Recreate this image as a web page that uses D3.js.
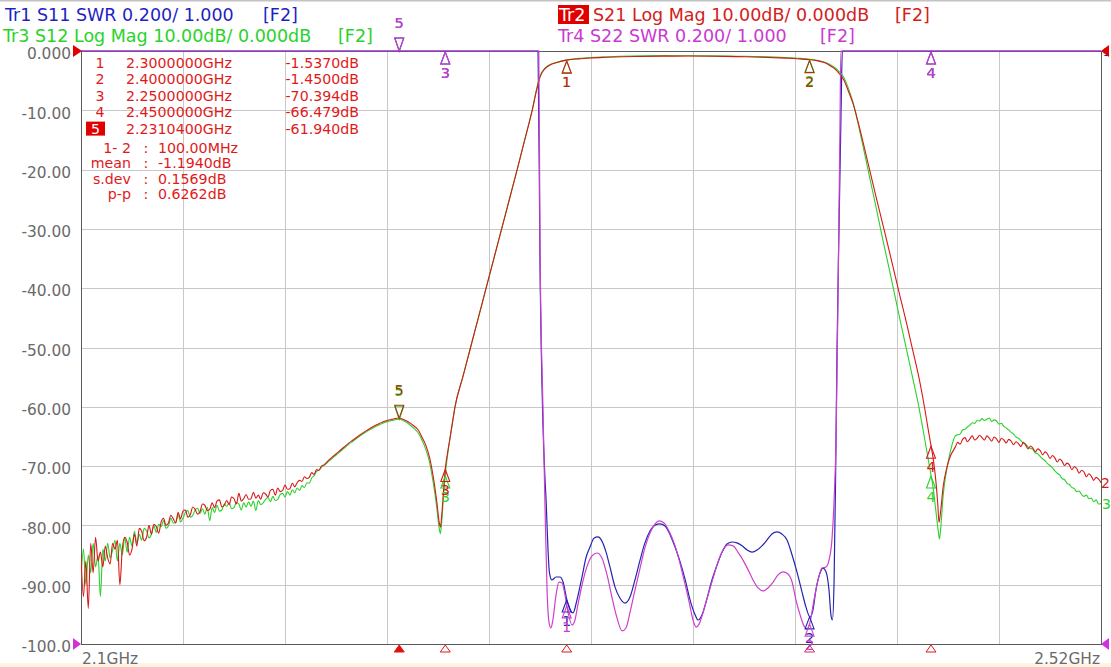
<!DOCTYPE html>
<html><head><meta charset="utf-8">
<script src="https://cdn.jsdelivr.net/npm/d3@7"></script>
<style>
html,body{margin:0;padding:0;background:#fff;overflow:hidden;}
svg{display:block;font-family:"DejaVu Sans",Verdana,sans-serif;}
</style></head><body>
<svg id="c" width="1111" height="667"></svg>
<script>
// ---------- data ----------
const sweepStart = 2100, sweepStop = 2520;          // MHz
const dbBottom = -100, dbTop = 0;                   // Log Mag scale
const swrBottom = 1.0, swrTop = 3.0;                // SWR scale (0.200/div)
const xGridMHz = [2142,2184,2226,2268,2310,2352,2394,2436,2478];
const yTicks = [0,-10,-20,-30,-40,-50,-60,-70,-80,-90,-100];
const yTickLabels = ["0.000","-10.00","-20.00","-30.00","-40.00","-50.00","-60.00","-70.00","-80.00","-90.00","-100.0"];
const startLabel = "2.1GHz", stopLabel = "2.52GHz";

// S21 Log Mag (dB) [MHz, dB]
const s21 = [[2100,-85],[2101,-92],[2102,-86],[2103,-94],[2104,-83],[2105,-88],[2106,-82],[2107,-86],[2108,-84.5],[2109,-87],
[2110,-83.5],[2111,-85.5],[2112,-86.5],[2113,-83],[2114,-84],[2115,-82.5],[2116,-90],[2117,-84],[2118,-82],[2119,-82.8],
[2120,-85],[2121,-84],[2122,-81.5],[2123,-83.5],[2124,-80.5],[2125,-81],[2126,-82.6],[2127,-82],[2128,-80],[2129,-81.5],
[2130,-79.8],[2131,-80.2],[2132,-81.3],[2133,-79.4],[2134,-78.8],[2135,-80],[2136,-79.6],[2137,-78.3],[2138,-78.9],[2139,-79.6],
[2140,-77.8],[2141,-78.9],[2142,-77.6],[2143,-77.4],[2144,-78.6],[2145,-78.2],[2146,-76.9],[2147,-77.3],[2148,-78.1],[2149,-77.7],
[2150,-76.4],[2151,-76.6],[2152,-77.5],[2153,-77.3],[2154,-76.2],[2155,-77],[2156,-75.9],[2157,-75.7],[2158,-76.9],[2159,-76.6],
[2160,-75.8],[2161,-76.5],[2162,-75.2],[2163,-75.5],[2164,-76.4],[2165,-74.6],[2166,-75.9],[2167,-75.5],[2168,-74.8],[2169,-75.6],
[2170,-75.5],[2171,-74.4],[2172,-75.4],[2173,-74.9],[2174,-75.6],[2175,-74.5],[2176,-74.7],[2177,-75.2],[2178,-74.1],[2179,-73.9],
[2180,-74.9],[2181,-73.7],[2182,-74.3],[2183,-74.1],[2184,-73.2],[2185,-73.9],[2186,-73.8],[2187,-72.9],[2188,-73.5],[2189,-72.8],
[2190,-72.4],[2191,-72.6],[2192,-71.8],[2193,-72.1],[2194,-71.9],[2195,-71.1],[2196,-71.4],[2197,-70.6],[2198,-70.7],[2199,-70.0],
[2200,-69.8],[2202,-69.0],[2204,-68.3],[2206,-67.6],[2208,-66.9],[2210,-66.2],[2212,-65.6],[2214,-65.0],[2216,-64.4],[2218,-63.9],
[2220,-63.4],[2222,-63.0],[2224,-62.6],[2226,-62.3],[2228,-62.1],[2231,-61.9],[2233,-62.2],[2235,-62.6],[2237,-63.2],[2239,-64.0],
[2240.5,-65.2],[2242,-66.5],[2243.5,-68.5],[2244.5,-70.5],[2245.5,-73],[2246.5,-76],[2247.5,-79.5],[2248,-80.3],[2248.5,-78.5],[2249.2,-74.5],
[2250,-70.4],[2251,-67.6],[2252,-65.1],[2253,-62.5],[2254,-60],[2257.2,-55],[2260.4,-50],[2263.6,-45],[2266.8,-40],[2270,-35],
[2273.2,-30],[2276.4,-25],[2279.6,-20],[2282.7,-15],[2285.8,-10],[2287.6,-6.6],[2289,-4.4],[2291,-3.0],[2293,-2.4],[2296,-1.95],
[2300,-1.54],[2305,-1.32],[2310,-1.18],[2315,-1.08],[2320,-1.0],[2330,-0.92],[2340,-0.87],[2350,-0.85],[2360,-0.88],[2370,-0.95],
[2380,-1.05],[2390,-1.2],[2395,-1.3],[2400,-1.45],[2403,-1.62],[2406,-1.95],[2408,-2.35],[2410,-2.9],[2412,-3.7],[2414,-4.8],
[2416,-6.8],[2418,-9],[2420,-12],[2422.5,-16.2],[2425,-20.5],[2427.5,-24.8],[2430,-29],[2432.5,-33.2],[2435,-37.5],[2437.5,-41.8],
[2440,-46],[2442.5,-50.5],[2445,-55],[2447.5,-60.5],[2449,-64.2],[2450,-66.5],[2451,-69],[2452,-72.5],[2452.8,-76.5],[2453.3,-79.5],
[2454,-77.5],[2455,-73.5],[2456.5,-70.3],[2458,-68.3],[2460,-66.8],[2461,-66.0],[2462,-66.3],[2463,-65.5],[2464,-65.2],[2465,-65.9],
[2466,-65.4],[2467,-64.9],[2468,-65.6],[2469,-65.3],[2470,-64.8],[2471,-65.2],[2472,-65.6],[2473,-64.9],[2474,-65.3],[2475,-65.8],
[2476,-65.1],[2477,-65.4],[2478,-66.0],[2479,-65.3],[2480,-65.6],[2481,-66.1],[2482,-65.5],[2483,-65.8],[2484,-66.4],[2485,-65.9],
[2486,-66.2],[2487,-66.7],[2488,-66.0],[2489,-66.5],[2490,-67.1],[2491,-66.6],[2492,-67.0],[2493,-67.6],[2494,-67.1],[2495,-67.4],
[2496,-68.1],[2497,-67.6],[2498,-68.0],[2499,-68.7],[2500,-68.2],[2501,-68.6],[2502,-69.3],[2503,-68.8],[2504,-69.2],[2505,-69.9],
[2506,-69.5],[2507,-69.8],[2508,-70.6],[2509,-70.1],[2510,-70.4],[2511,-71.2],[2512,-70.7],[2513,-71.0],[2514,-71.8],[2515,-71.3],
[2516,-71.7],[2517,-72.4],[2518,-71.9],[2519,-72.2],[2520,-72.8]];

// S12 Log Mag (dB) [MHz, dB]
const s12 = [[2100,-89],[2101,-84],[2102,-90],[2103,-85],[2104,-88],[2105,-83],[2106,-87],[2107,-85],[2108,-92],[2109,-84],
[2110,-86],[2111,-83],[2112,-85.5],[2113,-84.2],[2114,-82.5],[2115,-86],[2116,-83],[2117,-85],[2118,-82],[2119,-84.5],
[2120,-82],[2121,-83.5],[2122,-81],[2123,-83],[2124,-81.5],[2125,-82.5],[2126,-80.5],[2127,-80.9],[2128,-82.1],[2129,-81.5],
[2130,-80],[2131,-81.2],[2132,-79.8],[2133,-80.2],[2134,-79.2],[2135,-80.5],[2136,-80.1],[2137,-78.8],[2138,-79.6],[2139,-79.5],
[2140,-78.2],[2141,-79.4],[2142,-78.8],[2143,-77.8],[2144,-77.5],[2145,-78.6],[2146,-78.3],[2147,-77.4],[2148,-77.1],[2149,-78],
[2150,-77.2],[2151,-78.1],[2152,-76.9],[2153,-79.2],[2154,-77],[2155,-77.8],[2156,-76.6],[2157,-77.6],[2158,-77.4],[2159,-76.4],
[2160,-76.8],[2161,-76.2],[2162,-77.2],[2163,-77.0],[2164,-76.1],[2165,-76.4],[2166,-77.4],[2167,-76.2],[2168,-76.9],[2169,-76],
[2170,-76.8],[2171,-75.9],[2172,-77.5],[2173,-75.8],[2174,-76.5],[2175,-76.2],[2176,-75.6],[2177,-75.3],[2178,-76],[2179,-75.1],
[2180,-75.8],[2181,-75.6],[2182,-74.8],[2183,-74.6],[2184,-75.2],[2185,-74.3],[2186,-74.9],[2187,-74.0],[2188,-74.5],[2189,-73.7],
[2190,-74.1],[2191,-73.3],[2192,-73.6],[2193,-72.8],[2194,-72.9],[2195,-72.0],[2196,-71.6],[2197,-70.9],[2198,-70.7],[2199,-70.2],
[2200,-69.9],[2202,-69.2],[2204,-68.5],[2206,-67.8],[2208,-67.1],[2210,-66.4],[2212,-65.8],[2214,-65.2],[2216,-64.6],[2218,-64.1],
[2220,-63.6],[2222,-63.2],[2224,-62.8],[2226,-62.5],[2228,-62.3],[2231,-62.1],[2233,-62.4],[2235,-62.9],[2237,-63.6],[2239,-64.5],
[2240.5,-65.7],[2242,-67.2],[2243.5,-69.3],[2244.5,-71.5],[2245.5,-74],[2246.5,-77],[2247.5,-80.5],[2248,-81.4],[2248.5,-79.5],[2249.2,-75.5],
[2250,-71.5],[2251,-68],[2252,-65.2],[2253,-62.6],[2254,-60],[2257.2,-55],[2260.4,-50],[2263.6,-45],[2266.8,-40],[2270,-35],
[2273.2,-30],[2276.4,-25],[2279.6,-20],[2282.7,-15],[2285.8,-9.9],[2287.6,-6.4],[2289,-4.2],[2291,-2.9],[2293,-2.3],[2296,-1.9],
[2300,-1.5],[2305,-1.25],[2310,-1.1],[2315,-1.0],[2320,-0.92],[2330,-0.8],[2340,-0.78],[2350,-0.8],[2360,-0.82],[2370,-0.88],
[2380,-0.95],[2390,-1.1],[2395,-1.22],[2400,-1.38],[2403,-1.55],[2406,-1.85],[2408,-2.2],[2410,-2.7],[2412,-3.4],[2414,-4.4],
[2416,-6.3],[2418,-8.8],[2420,-12.3],[2422.5,-17],[2425,-21.8],[2427.5,-26.6],[2430,-31.5],[2432.5,-36.2],[2435,-41],[2437.5,-45.8],
[2440,-50.5],[2442.5,-55.2],[2445,-60],[2447,-64.5],[2448.5,-68],[2450,-71.5],[2451,-74],[2452,-77.5],[2453,-81],[2453.5,-82.3],
[2454,-80.5],[2455,-75],[2456.5,-70.5],[2458,-67.5],[2460,-64.9],[2461,-64.7],[2462,-64.6],[2463,-63.9],[2464,-63.8],[2465,-63.4],
[2466,-63.1],[2467,-62.7],[2468,-62.8],[2469,-62.3],[2470,-62.4],[2471,-62.0],[2472,-62.3],[2473,-62.1],[2474,-61.9],[2475,-62.5],
[2476,-62.2],[2477,-62.4],[2478,-62.9],[2479,-62.8],[2480,-63.3],[2481,-63.6],[2482,-63.9],[2483,-64.3],[2484,-64.6],[2485,-65.1],
[2486,-65.3],[2487,-65.7],[2488,-66.1],[2489,-66.3],[2490,-66.8],[2491,-67.0],[2492,-67.2],[2493,-67.8],[2494,-67.9],[2495,-68.4],
[2496,-68.8],[2497,-69.1],[2498,-69.6],[2499,-69.9],[2500,-70.3],[2501,-70.8],[2502,-71.2],[2503,-71.5],[2504,-72.1],[2505,-72.3],
[2506,-72.9],[2507,-73.1],[2508,-73.6],[2509,-73.8],[2510,-74.3],[2511,-74.2],[2512,-74.8],[2513,-75.1],[2514,-74.9],[2515,-75.5],
[2516,-75.4],[2517,-76.0],[2518,-75.7],[2519,-76.4],[2520,-76.3]];

// S11 SWR [MHz, SWR] (values above 3.0 are off-scale)
const s11 = [[2100,6],[2288.2,3.05],[2289.0,2.28],[2290.2,1.745],[2291.1,1.55],[2291.5,1.486],[2292.3,1.317],[2292.9,1.24],[2293.9,1.216],[2295.6,1.226],
[2297.2,1.226],[2298.5,1.209],[2300.1,1.148],[2301.4,1.115],[2302.6,1.105],[2304.2,1.148],[2306.3,1.226],[2307.9,1.29],[2309.6,1.327],[2311.2,1.357],
[2312.9,1.361],[2314.5,1.347],[2316.2,1.31],[2317.8,1.26],[2319.9,1.192],[2321.9,1.155],[2324.0,1.138],[2326.1,1.159],[2328.1,1.216],[2330.2,1.283],
[2332.2,1.341],[2334.3,1.381],[2336.4,1.401],[2338.4,1.405],[2340.5,1.398],[2342.6,1.368],[2344.6,1.327],[2346.7,1.277],[2348.8,1.216],[2350.8,1.148],
[2352.9,1.098],[2354.1,1.081],[2355.7,1.098],[2357.8,1.155],[2359.8,1.216],[2361.9,1.266],[2364.0,1.31],[2366.0,1.337],[2368.1,1.344],[2370.1,1.341],
[2372.2,1.331],[2374.3,1.317],[2376.3,1.31],[2378.4,1.317],[2380.4,1.331],[2382.5,1.351],[2384.5,1.371],[2386.6,1.378],[2388.6,1.371],[2390.7,1.351],
[2392.8,1.30],[2394.8,1.243],[2396.9,1.175],[2398.5,1.125],[2400.2,1.091],[2401.4,1.115],[2402.6,1.182],[2404.3,1.239],[2405.5,1.256],[2406.8,1.243],
[2408.0,1.182],[2408.8,1.098],[2409.4,1.081],[2410.1,1.216],[2410.7,1.553],[2411.3,1.992],[2412.1,2.396],[2412.9,2.767],[2413.5,3.02],[2414,6],[2520,6]];

// S22 SWR [MHz, SWR]
const s22 = [[2100,6],[2288.5,3.05],[2289.0,2.35],[2290.2,1.8],[2291.1,1.45],[2291.9,1.182],[2292.7,1.074],[2293.5,1.054],[2294.3,1.081],[2295.6,1.165],
[2296.8,1.209],[2298.1,1.206],[2299.3,1.165],[2300.5,1.108],[2302.2,1.064],[2303.4,1.081],[2304.6,1.132],[2306.3,1.199],[2308.3,1.26],[2310.4,1.297],
[2312.5,1.307],[2314.5,1.29],[2316.6,1.233],[2318.6,1.159],[2320.7,1.088],[2322.8,1.044],[2324.4,1.054],[2326.1,1.108],[2328.1,1.182],[2330.2,1.256],
[2332.2,1.324],[2334.3,1.374],[2336.4,1.405],[2338.0,1.415],[2340.1,1.408],[2342.1,1.381],[2344.2,1.341],[2346.3,1.283],[2348.3,1.216],[2350.4,1.142],
[2352.0,1.081],[2353.3,1.057],[2354.5,1.067],[2356.1,1.105],[2358.2,1.165],[2360.3,1.223],[2362.3,1.277],[2364.4,1.317],[2366.4,1.334],[2368.5,1.331],
[2370.5,1.31],[2372.6,1.283],[2374.7,1.25],[2376.7,1.216],[2378.8,1.189],[2380.8,1.179],[2382.9,1.189],[2385.0,1.209],[2387.0,1.233],[2389.1,1.243],
[2391.1,1.236],[2392.8,1.209],[2394.4,1.148],[2396.1,1.098],[2397.7,1.061],[2398.9,1.051],[2400.2,1.074],[2401.8,1.148],[2403.5,1.216],[2405.1,1.256],
[2406.8,1.26],[2408.0,1.283],[2409.2,1.351],[2410.1,1.486],[2410.9,1.688],[2411.7,2.16],[2412.5,2.733],[2412.9,3.02],[2413.5,6],[2520,6]];

// markers
const markerNum = ["1","2","3","4","5"];
const markerMHz = [2300, 2400, 2250, 2450, 2231.04];
const markerS21 = [-1.537, -1.450, -70.394, -66.479, -61.940];
const markerFreqText = ["2.3000000GHz","2.4000000GHz","2.2500000GHz","2.4500000GHz","2.2310400GHz"];
const markerValText = ["-1.5370dB","-1.4500dB","-70.394dB","-66.479dB","-61.940dB"];
const activeMarker = 4;
const statLabels = ["1- 2","mean","s.dev","p-p"];
const statValues = ["100.00MHz","-1.1940dB","0.1569dB","0.6262dB"];

// header
const hdrTr1 = "Tr1 S11 SWR 0.200/ 1.000";
const hdrTr3 = "Tr3 S12 Log Mag 10.00dB/ 0.000dB";
const hdrTr2 = "S21 Log Mag 10.00dB/ 0.000dB";
const hdrTr4 = "Tr4 S22 SWR 0.200/ 1.000";
const hdrCh = "[F2]";

// ---------- drawing ----------
const C = {blue:"#2424b0", blueTxt:"#1f1fc4", green:"#2ad22a", red:"#d81818", redTxt:"#d42020", mag:"#cc40cc", magTxt:"#c83ad0", grid:"#c8c8c8", frame:"#5a5a5a", lbl:"#6a6a6a"};
const W=1111,H=667,L=81,R=1101,T=51,B=644;
const svg = d3.select("#c");
const x = d3.scaleLinear().domain([sweepStart, sweepStop]).range([L,R]);
const yDb = d3.scaleLinear().domain([dbBottom, dbTop]).range([B,T]);
const ySwr = d3.scaleLinear().domain([swrBottom, swrTop]).range([B,T]);
const clampSwr = v => Math.max(swrBottom, Math.min(swrTop, v));

svg.append("rect").attr("width",W).attr("height",H).attr("fill","#fff");
svg.append("rect").attr("x",0).attr("y",663).attr("width",W).attr("height",4).attr("fill","#fdf4e2");
svg.append("rect").attr("x",0).attr("y",0).attr("width",W).attr("height",1.5).attr("fill","#c4c4c4");

// grid
const gx = svg.append("g").attr("transform",`translate(0,${B})`)
  .call(d3.axisBottom(x).tickValues(xGridMHz).tickSize(-(B-T)).tickFormat(""));
gx.select(".domain").remove();
gx.selectAll("line").attr("stroke",C.grid).attr("shape-rendering","crispEdges");
const gy = svg.append("g").attr("transform",`translate(${L},0)`)
  .call(d3.axisLeft(yDb).tickValues(yTicks).tickSize(-(R-L)).tickPadding(10).tickFormat((d,i)=>yTickLabels[i]));
gy.select(".domain").remove();
gy.selectAll("line").attr("stroke",C.grid).attr("shape-rendering","crispEdges");
gy.selectAll("text").attr("fill",C.lbl).attr("dy","0.5em")
  .style("font-size","15.4px").style("font-family","'DejaVu Sans',Verdana,sans-serif");

// frame
svg.append("rect").attr("x",L).attr("y",T).attr("width",R-L).attr("height",B-T)
  .attr("fill","none").attr("stroke",C.frame).attr("shape-rendering","crispEdges");

// stimulus labels
svg.append("text").attr("x",L+1).attr("y",664).attr("fill",C.lbl).style("font-size","15.4px").text(startLabel);
svg.append("text").attr("x",R-1).attr("y",664).attr("text-anchor","end").attr("fill",C.lbl).style("font-size","15.4px").text(stopLabel);

// clip
svg.append("clipPath").attr("id","pc").append("rect").attr("x",L).attr("y",T-1).attr("width",R-L+1).attr("height",B-T+2);
const plot = svg.append("g").attr("clip-path","url(#pc)");

const lineDb = d3.line().x(d=>x(d[0])).y(d=>yDb(d[1])).curve(d3.curveMonotoneX);
const lineSwr = d3.line().x(d=>x(d[0])).y(d=>ySwr(clampSwr(d[1]))).curve(d3.curveMonotoneX);
plot.append("path").datum(s11).attr("d",lineSwr).attr("fill","none").attr("stroke",C.blue).attr("stroke-width",1.2);
plot.append("path").datum(s12).attr("d",lineDb).attr("fill","none").attr("stroke",C.green).attr("stroke-width",1.1);
plot.append("path").datum(s21).attr("d",lineDb).attr("fill","none").attr("stroke",C.red).attr("stroke-width",1.1);
plot.append("path").datum(s22).attr("d",lineSwr).attr("fill","none").attr("stroke",C.mag).attr("stroke-width",1.2);

// marker helpers
function interp(data,f){
  const i = d3.bisector(d=>d[0]).left(data,f);
  if(i<=0) return data[0][1];
  if(i>=data.length) return data[data.length-1][1];
  const a=data[i-1], b=data[i];
  return a[1]+(b[1]-a[1])*(f-a[0])/(b[0]-a[0]);
}
const mg = svg.append("g");
function marker(px,py,down,label,color){
  const hw=4.5, h=13;
  const pts = down ? [[px,py],[px-hw,py-h],[px+hw,py-h]] : [[px,py+1],[px-hw,py+h],[px+hw,py+h]];
  mg.append("polygon").attr("points",pts.map(p=>p.join(",")).join(" "))
    .attr("fill","none").attr("stroke",color).attr("stroke-width",1.1);
  mg.append("text").attr("x",px).attr("y",down ? py-h-10 : py+h+14).attr("text-anchor","middle")
    .attr("fill",color).style("font-size","14.5px").text(label);
}
// SWR markers (blue under magenta)
[[s11,C.blue],[s22,C.mag]].forEach(([data,col])=>{
  markerMHz.forEach((f,i)=>{
    const v = clampSwr(interp(data,f));
    marker(x(f), ySwr(v), i===activeMarker, markerNum[i], col);
  });
});
// Log mag markers
markerMHz.forEach((f,i)=>{ marker(x(f), yDb(interp(s12,f)), i===activeMarker, markerNum[i], C.green); });
markerMHz.forEach((f,i)=>{ marker(x(f), yDb(markerS21[i]), i===activeMarker, markerNum[i], i===1||i===4 ? "#a8380c" : C.red); });

// bottom marker indicators
markerMHz.forEach((f,i)=>{
  const px=x(f);
  svg.append("polygon").attr("points",`${px},${B+1} ${px-5},${B+8} ${px+5},${B+8}`)
    .attr("fill", i===activeMarker ? "#e01010" : "none").attr("stroke", i===1 ? "#d0306a" : "#e01818").attr("stroke-width",1);
});

// reference position arrows
svg.append("polygon").attr("points",`${L-8},${T-6} ${L-8},${T+6} ${L+1},${T}`).attr("fill","#e00000");
svg.append("polygon").attr("points",`${L-8},${B-6} ${L-8},${B+6} ${L},${B}`).attr("fill","#d030e0");
svg.append("text").attr("x",R+2).attr("y",T+5).attr("fill",C.blue).style("font-size","11px").text("1");
svg.append("polygon").attr("points",`${R+8},${T-6} ${R+8},${T+6} ${R},${T}`).attr("fill","#e00000");
svg.append("polygon").attr("points",`${R+8},${B-6} ${R+8},${B+6} ${R},${B}`).attr("fill","#d030e0");

// trace end labels
svg.append("text").attr("x",R).attr("y",yDb(s21[s21.length-1][1])).attr("dy","0.38em").attr("fill",C.red).style("font-size","14px").text("2");
svg.append("text").attr("x",R+1).attr("y",yDb(s12[s12.length-1][1])).attr("dy","0.38em").attr("fill",C.green).style("font-size","14px").text("3");

// marker table
const tg = svg.append("g").attr("fill","#e01a1a").style("font-size","14.2px");
markerNum.forEach((n,i)=>{
  const by = 68 + 16.4*i;
  if(i===activeMarker){
    tg.append("rect").attr("x",86).attr("y",by-12).attr("width",19).attr("height",14).attr("fill","#e00000");
    tg.append("text").attr("x",95.5).attr("y",by).attr("text-anchor","middle").attr("fill","#fff").text(n);
  } else {
    tg.append("text").attr("x",100).attr("y",by).attr("text-anchor","middle").text(n);
  }
  tg.append("text").attr("x",126).attr("y",by).text(markerFreqText[i]);
  tg.append("text").attr("x",359).attr("y",by).attr("text-anchor","end").text(markerValText[i]);
});
statLabels.forEach((s,i)=>{
  const by = 152.5 + 15.5*i;
  tg.append("text").attr("x",131).attr("y",by).attr("text-anchor","end").text(s);
  tg.append("text").attr("x",146).attr("y",by).attr("text-anchor","middle").text(":");
  tg.append("text").attr("x",158).attr("y",by).text(statValues[i]);
});

// header
const hg = svg.append("g").style("font-size","17.5px");
hg.append("text").attr("x",5).attr("y",21).attr("fill",C.blueTxt).text(hdrTr1);
hg.append("text").attr("x",263).attr("y",21).attr("fill",C.blueTxt).text(hdrCh);
hg.append("text").attr("x",3).attr("y",42).attr("fill",C.green).text(hdrTr3);
hg.append("text").attr("x",338).attr("y",42).attr("fill",C.green).text(hdrCh);
hg.append("rect").attr("x",558).attr("y",5).attr("width",31).attr("height",19).attr("fill","#e00000");
hg.append("text").attr("x",559).attr("y",21).attr("fill","#fff").text("Tr2");
hg.append("text").attr("x",593).attr("y",21).attr("fill",C.redTxt).text(hdrTr2);
hg.append("text").attr("x",895).attr("y",21).attr("fill",C.redTxt).text(hdrCh);
hg.append("text").attr("x",558).attr("y",42).attr("fill",C.magTxt).text(hdrTr4);
hg.append("text").attr("x",820).attr("y",42).attr("fill",C.magTxt).text(hdrCh);
</script>
</body></html>
